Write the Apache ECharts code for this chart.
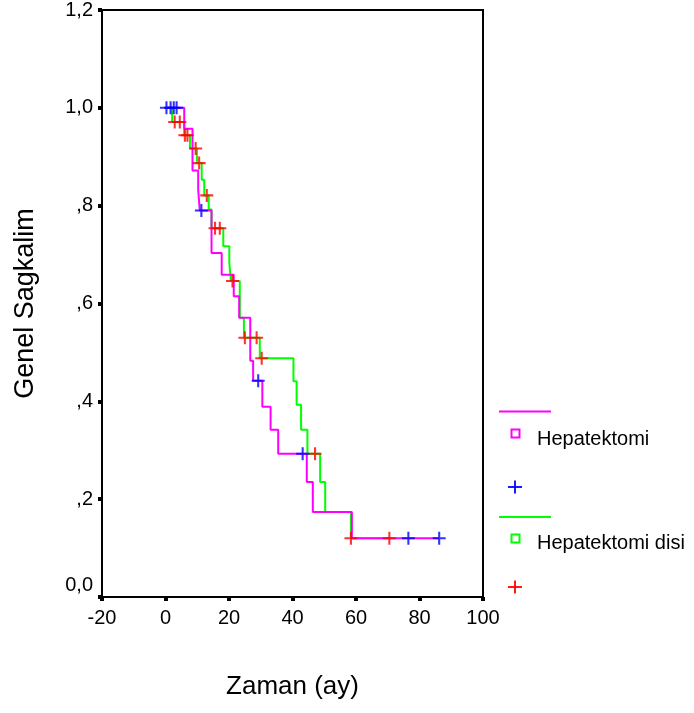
<!DOCTYPE html>
<html><head><meta charset="utf-8">
<script src="https://cdn.jsdelivr.net/npm/echarts@6/dist/echarts.min.js"></script>
<style>html,body{margin:0;padding:0;background:#fff}#c{width:694px;height:713px}</style>
</head><body><div id="c"></div>
<script>
// Hepatektomi (magenta) Kaplan-Meier steps: [time, survival after event]
const hepTimes  = [0, 5.9, 8.5, 10.3, 10.8, 14.5, 17.7, 21.5, 23.2, 26.7, 27.6, 30.5, 33.1, 35.5, 44.5, 46.4, 58.7, 86.2];
const hepValues = [1.0, 0.957, 0.872, 0.832, 0.790, 0.703, 0.659, 0.615, 0.571, 0.483, 0.442, 0.389, 0.342, 0.293, 0.235, 0.174, 0.120, 0.120];
const hepCensTimes  = [0.3, 1.6, 2.6, 3.5, 11.3, 29.2, 43.2, 76.5, 86.2];
const hepCensValues = [1.0, 1.0, 1.0, 1.0, 0.790, 0.442, 0.293, 0.120, 0.120];

// Hepatektomi disi (green)
const disTimes  = [0, 2.1, 5.9, 7.7, 9.9, 11.4, 12.2, 13.6, 14.5, 18.2, 20.1, 20.6, 23.4, 24.7, 29.7, 40.3, 41.3, 42.7, 44.7, 48.7, 50.3, 58.4, 70.5];
const disValues = [1.0, 0.971, 0.944, 0.917, 0.887, 0.853, 0.821, 0.792, 0.754, 0.717, 0.683, 0.646, 0.571, 0.530, 0.488, 0.441, 0.393, 0.342, 0.293, 0.235, 0.174, 0.120, 0.120];
const disCensTimes  = [2.9, 4.5, 6.1, 6.9, 9.5, 10.6, 13.0, 15.6, 17.1, 21.1, 25.0, 28.7, 30.3, 47.1, 58.4, 70.5];
const disCensValues = [0.971, 0.971, 0.944, 0.944, 0.917, 0.887, 0.821, 0.754, 0.754, 0.646, 0.530, 0.530, 0.488, 0.293, 0.120, 0.120];

const xTicks = [-20, 0, 20, 40, 60, 80, 100];
const yTickLabels = {'0':'0,0','0.2':',2','0.4':',4','0.6':',6','0.8':',8','1':'1,0','1.2':'1,2'};
const legendNames = ['Hepatektomi', 'Hepatektomi disi'];

const zip = (a, b) => a.map((v, i) => [v, b[i]]);
const plus = 'path://M0,4.2h10v1.6h-10zM4.2,0h1.6v10h-1.6z';
const FONT = 'Liberation Sans, Arial, sans-serif';

function legendPlus(cx, cy, color) {
  return [
    {type: 'rect', shape: {x: cx - 7, y: cy - 0.9, width: 14, height: 1.8}, style: {fill: color}},
    {type: 'rect', shape: {x: cx - 0.9, y: cy - 6.5, width: 1.8, height: 13}, style: {fill: color}}
  ];
}

const chart = echarts.init(document.getElementById('c'), null, {renderer: 'canvas'});
chart.setOption({
  animation: false,
  grid: {left: 102, right: 211, top: 10, bottom: 116, show: true, borderColor: '#000', borderWidth: 2, backgroundColor: 'transparent'},
  xAxis: {
    type: 'value', min: xTicks[0], max: xTicks[xTicks.length - 1], interval: 20,
    name: 'Zaman (ay)', nameLocation: 'middle', nameGap: 77,
    nameTextStyle: {fontFamily: FONT, fontSize: 26, color: '#000'},
    axisLine: {show: true, onZero: false, lineStyle: {color: '#000', width: 2}},
    axisTick: {show: true, length: 4, lineStyle: {color: '#000', width: 4}},
    axisLabel: {fontFamily: FONT, fontSize: 20, color: '#000', margin: 11},
    splitLine: {show: false}
  },
  yAxis: {
    type: 'value', min: 0, max: 1.2, interval: 0.2,
    name: 'Genel Sagkalim', nameLocation: 'middle', nameGap: 63, nameRotate: 90,
    nameTextStyle: {fontFamily: FONT, fontSize: 27, color: '#000'},
    axisLine: {show: true, onZero: false, lineStyle: {color: '#000', width: 2}},
    axisTick: {show: true, length: 4, lineStyle: {color: '#000', width: 4}},
    axisLabel: {fontFamily: FONT, fontSize: 20, color: '#000', margin: 9,
      formatter: v => {
        const s = yTickLabels[String(Math.round(v * 10) / 10)] || '';
        return v === 0 ? '{z|' + s + '}' : s;
      },
      rich: {z: {fontFamily: FONT, fontSize: 20, color: '#000', padding: [0, 0, 24, 0]}}},
    splitLine: {show: false}
  },
  series: [
    {name: legendNames[0], type: 'line', step: 'end', data: zip(hepTimes, hepValues), showSymbol: false,
     lineStyle: {color: '#ff00ff', width: 2}, z: 3},
    {name: legendNames[1], type: 'line', step: 'end', data: zip(disTimes, disValues), showSymbol: false,
     lineStyle: {color: '#00ff00', width: 2}, z: 2},
    {type: 'scatter', data: zip(hepCensTimes, hepCensValues), symbol: plus, symbolSize: 13,
     itemStyle: {color: '#0000ff'}, z: 5},
    {type: 'scatter', data: zip(disCensTimes, disCensValues), symbol: plus, symbolSize: 13,
     itemStyle: {color: '#ff0000'}, z: 4}
  ],
  graphic: [
    {type: 'line', shape: {x1: 499, y1: 411.5, x2: 551, y2: 411.5}, style: {stroke: '#ff00ff', lineWidth: 2}},
    {type: 'rect', shape: {x: 511.5, y: 429.5, width: 8, height: 8}, style: {stroke: '#ff00ff', fill: '#fff', lineWidth: 2}},
    {type: 'text', x: 537, y: 439, style: {text: legendNames[0], fontFamily: FONT, fontSize: 20, fill: '#000', verticalAlign: 'middle'}},
    ...legendPlus(515, 487, '#0000ff'),
    {type: 'line', shape: {x1: 499, y1: 517, x2: 551, y2: 517}, style: {stroke: '#00ff00', lineWidth: 2}},
    {type: 'rect', shape: {x: 511.5, y: 534.5, width: 8, height: 8}, style: {stroke: '#00ff00', fill: '#fff', lineWidth: 2}},
    {type: 'text', x: 537, y: 543, style: {text: legendNames[1], fontFamily: FONT, fontSize: 20, fill: '#000', verticalAlign: 'middle'}},
    ...legendPlus(515, 587, '#ff0000')
  ]
});
</script></body></html>
